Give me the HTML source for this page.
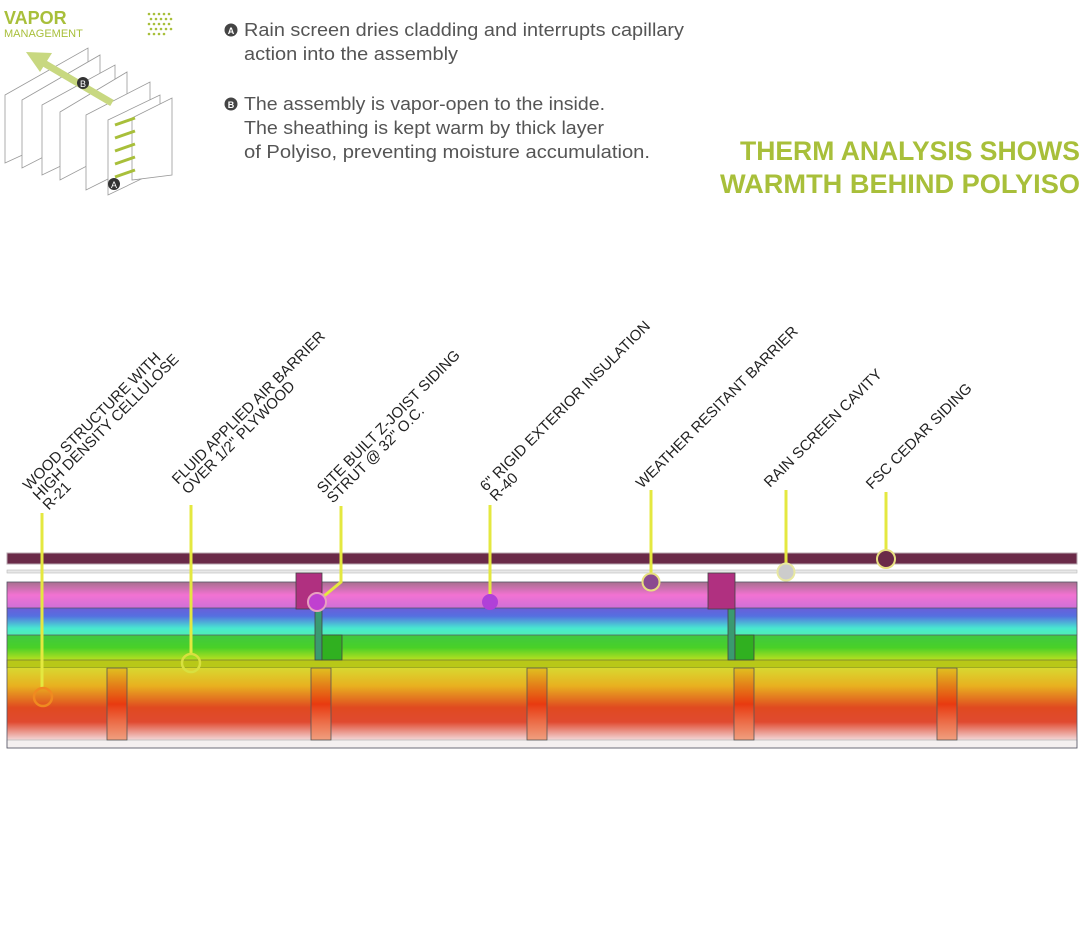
<!DOCTYPE html>
<html><head><meta charset="utf-8"><style>
html,body{margin:0;padding:0;background:#fff;}
svg{display:block;}
</style></head><body>
<svg width="1085" height="935" viewBox="0 0 1085 935" xmlns="http://www.w3.org/2000/svg" font-family="Liberation Sans, sans-serif">
<defs>
<linearGradient id="g1" x1="0" y1="0" x2="0" y2="1">
<stop offset="0" stop-color="#a8708f"/><stop offset="0.5" stop-color="#f272d2"/><stop offset="1" stop-color="#d070d8"/></linearGradient>
<linearGradient id="g2" x1="0" y1="0" x2="0" y2="1">
<stop offset="0" stop-color="#6a5ed8"/><stop offset="0.3" stop-color="#5570e0"/><stop offset="0.75" stop-color="#48e8d0"/><stop offset="1" stop-color="#50f0b0"/></linearGradient>
<linearGradient id="g3" x1="0" y1="0" x2="0" y2="1">
<stop offset="0" stop-color="#40c840"/><stop offset="0.5" stop-color="#48d028"/><stop offset="1" stop-color="#b8e020"/></linearGradient>
<linearGradient id="g4" x1="0" y1="0" x2="0" y2="1">
<stop offset="0" stop-color="#d8d830"/><stop offset="0.25" stop-color="#e8b020"/><stop offset="0.55" stop-color="#e04a20"/><stop offset="0.75" stop-color="#e04a30"/><stop offset="1" stop-color="#f2d8d8"/></linearGradient>
<linearGradient id="gs" x1="0" y1="0" x2="0" y2="1">
<stop offset="0" stop-color="#e0c020"/><stop offset="0.5" stop-color="#e83a10"/><stop offset="1" stop-color="#f0a080"/></linearGradient>
</defs>

<!-- vapor icon -->
<text x="4" y="24" font-size="18" font-weight="bold" fill="#a8bf3a">VAPOR</text>
<text x="4" y="37" font-size="11" fill="#a8bf3a">MANAGEMENT</text>
<g fill="#a8bf3a">
<circle cx="149" cy="14" r="1.3"/><circle cx="154" cy="14" r="1.3"/><circle cx="159" cy="14" r="1.3"/><circle cx="164" cy="14" r="1.3"/><circle cx="169" cy="14" r="1.3"/>
<circle cx="151" cy="19" r="1.3"/><circle cx="156" cy="19" r="1.3"/><circle cx="161" cy="19" r="1.3"/><circle cx="166" cy="19" r="1.3"/><circle cx="171" cy="19" r="1.3"/>
<circle cx="149" cy="24" r="1.3"/><circle cx="154" cy="24" r="1.3"/><circle cx="159" cy="24" r="1.3"/><circle cx="164" cy="24" r="1.3"/><circle cx="169" cy="24" r="1.3"/>
<circle cx="151" cy="29" r="1.3"/><circle cx="156" cy="29" r="1.3"/><circle cx="161" cy="29" r="1.3"/><circle cx="166" cy="29" r="1.3"/><circle cx="171" cy="29" r="1.3"/>
<circle cx="149" cy="34" r="1.3"/><circle cx="154" cy="34" r="1.3"/><circle cx="159" cy="34" r="1.3"/><circle cx="164" cy="34" r="1.3"/>
</g>
<g fill="#fff" stroke="#999" stroke-width="0.8">
<polygon points="5,95 88,48 88,125 5,163"/>
<polygon points="22,100 100,55 100,128 22,168"/>
<polygon points="42,105 115,65 115,140 42,175"/>
<polygon points="60,112 127,72 127,145 60,180"/>
<polygon points="86,115 150,82 150,158 86,190"/>
<polygon points="108,120 160,95 160,170 108,195"/>
<polygon points="132,118 172,98 172,175 132,180"/>
</g>
<g stroke="#a8bf3a" stroke-width="3"><line x1="115" y1="125" x2="135" y2="118"/><line x1="115" y1="138" x2="135" y2="131"/><line x1="115" y1="151" x2="135" y2="144"/><line x1="115" y1="164" x2="135" y2="157"/><line x1="115" y1="177" x2="135" y2="170"/></g>
<line x1="112" y1="103" x2="42" y2="62" stroke="#c8d880" stroke-width="7"/>
<polygon points="26,52 52,53 40,72" fill="#c8d880"/>
<circle cx="83" cy="83" r="6" fill="#333"/><text x="83" y="87" font-size="9" fill="#fff" text-anchor="middle">B</text>
<circle cx="114" cy="184" r="6" fill="#333"/><text x="114" y="188" font-size="9" fill="#fff" text-anchor="middle">A</text>

<!-- notes -->
<g font-size="18.5" fill="#555">
<circle cx="231" cy="30" r="6.5" fill="#444"/><text x="231" y="34" font-size="9" fill="#fff" text-anchor="middle" font-weight="bold">A</text>
<text x="244" y="36" textLength="440" lengthAdjust="spacingAndGlyphs">Rain screen dries cladding and interrupts capillary</text>
<text x="244" y="60" textLength="214" lengthAdjust="spacingAndGlyphs">action into the assembly</text>
<circle cx="231" cy="104" r="6.5" fill="#444"/><text x="231" y="108" font-size="9" fill="#fff" text-anchor="middle" font-weight="bold">B</text>
<text x="244" y="110" textLength="361" lengthAdjust="spacingAndGlyphs">The assembly is vapor-open to the inside.</text>
<text x="244" y="134" textLength="360" lengthAdjust="spacingAndGlyphs">The sheathing is kept warm by thick layer</text>
<text x="244" y="158" textLength="406" lengthAdjust="spacingAndGlyphs">of Polyiso,  preventing moisture accumulation.</text>
</g>
<text x="740" y="160" font-size="27" font-weight="bold" fill="#a8bf3a" textLength="340" lengthAdjust="spacingAndGlyphs">THERM ANALYSIS SHOWS</text>
<text x="720" y="193" font-size="27" font-weight="bold" fill="#a8bf3a" textLength="360" lengthAdjust="spacingAndGlyphs">WARMTH BEHIND POLYISO</text>

<!-- labels -->
<g font-size="15" fill="#222">
<text transform="translate(29,491) rotate(-45)"><tspan x="0" y="0">WOOD STRUCTURE WITH</tspan><tspan x="0" y="14">HIGH DENSITY CELLULOSE</tspan><tspan x="0" y="28">R-21</tspan></text>
<text transform="translate(178,485) rotate(-45)"><tspan x="0" y="0">FLUID APPLIED AIR BARRIER</tspan><tspan x="0" y="14">OVER 1/2" PLYWOOD</tspan></text>
<text transform="translate(323,494) rotate(-45)"><tspan x="0" y="0">SITE BUILT Z-JOIST SIDING</tspan><tspan x="0" y="14">STRUT @ 32" O.C.</tspan></text>
<text transform="translate(486,492) rotate(-45)"><tspan x="0" y="0">6" RIGID EXTERIOR INSULATION</tspan><tspan x="0" y="14">R-40</tspan></text>
<text transform="translate(642,489) rotate(-45)">WEATHER  RESITANT BARRIER</text>
<text transform="translate(770,488) rotate(-45)">RAIN SCREEN CAVITY</text>
<text transform="translate(872,490) rotate(-45)">FSC CEDAR SIDING</text>
</g>

<!-- assembly -->
<rect x="7" y="553" width="1070" height="11" fill="#6a2a48" stroke="#b8a8b0" stroke-width="1"/>
<rect x="7" y="570" width="1070" height="3" fill="#e8e8e8" stroke="#bbb" stroke-width="0.6"/>
<rect x="7" y="582" width="1070" height="26" fill="url(#g1)"/>
<rect x="7" y="608" width="1070" height="27" fill="url(#g2)"/>
<rect x="7" y="635" width="1070" height="25" fill="url(#g3)"/>
<rect x="7" y="660" width="1070" height="8" fill="#b8c818" stroke="#7a8030" stroke-width="0.8"/>
<rect x="7" y="668" width="1070" height="72" fill="url(#g4)"/>
<rect x="7" y="740" width="1070" height="8" fill="#f4f0f0" stroke="#bbb" stroke-width="0.8"/>
<g stroke="#556" stroke-width="0.8" fill="none">
<rect x="7" y="582" width="1070" height="166"/>
<line x1="7" y1="608" x2="1077" y2="608"/>
<line x1="7" y1="635" x2="1077" y2="635"/>
</g>
<!-- studs -->
<g fill="url(#gs)" stroke="#555" stroke-width="0.8">
<rect x="107" y="668" width="20" height="72"/>
<rect x="311" y="668" width="20" height="72"/>
<rect x="527" y="668" width="20" height="72"/>
<rect x="734" y="668" width="20" height="72"/>
<rect x="937" y="668" width="20" height="72"/>
</g>
<!-- struts -->
<g stroke="#444" stroke-width="0.8">
<rect x="296" y="573" width="26" height="36" fill="#b03080"/>
<rect x="315" y="609" width="7" height="51" fill="#3a9a70"/>
<rect x="322" y="635" width="20" height="25" fill="#30b020"/>
<rect x="708" y="573" width="27" height="36" fill="#b03080"/>
<rect x="728" y="609" width="7" height="51" fill="#3a9a70"/>
<rect x="735" y="635" width="19" height="25" fill="#30b020"/>
</g>

<!-- leader lines -->
<g stroke="#e4e840" stroke-width="3" fill="none">
<line x1="42" y1="513" x2="42" y2="688"/>
<line x1="191" y1="505" x2="191" y2="653"/>
<polyline points="341,506 341,582 324,596"/>
<line x1="490" y1="505" x2="490" y2="595"/>
<line x1="651" y1="490" x2="651" y2="575"/>
<line x1="786" y1="490" x2="786" y2="564"/>
<line x1="886" y1="492" x2="886" y2="551"/>
</g>
<circle cx="43" cy="697" r="9" fill="none" stroke="#f08a20" stroke-width="2.5"/>
<circle cx="191" cy="663" r="9" fill="none" stroke="#d8e040" stroke-width="2.5"/>
<circle cx="317" cy="602" r="9" fill="#c040d0" stroke="#e8a0c0" stroke-width="2"/>
<circle cx="490" cy="602" r="8" fill="#b040d8"/>
<circle cx="651" cy="582" r="8.5" fill="#8a4a90" stroke="#e8e080" stroke-width="2"/>
<circle cx="786" cy="572" r="8.5" fill="#ccc" stroke="#e8e8a0" stroke-width="2"/>
<circle cx="886" cy="559" r="9" fill="#6a2a48" stroke="#e8e080" stroke-width="2"/>
</svg>
</body></html>
